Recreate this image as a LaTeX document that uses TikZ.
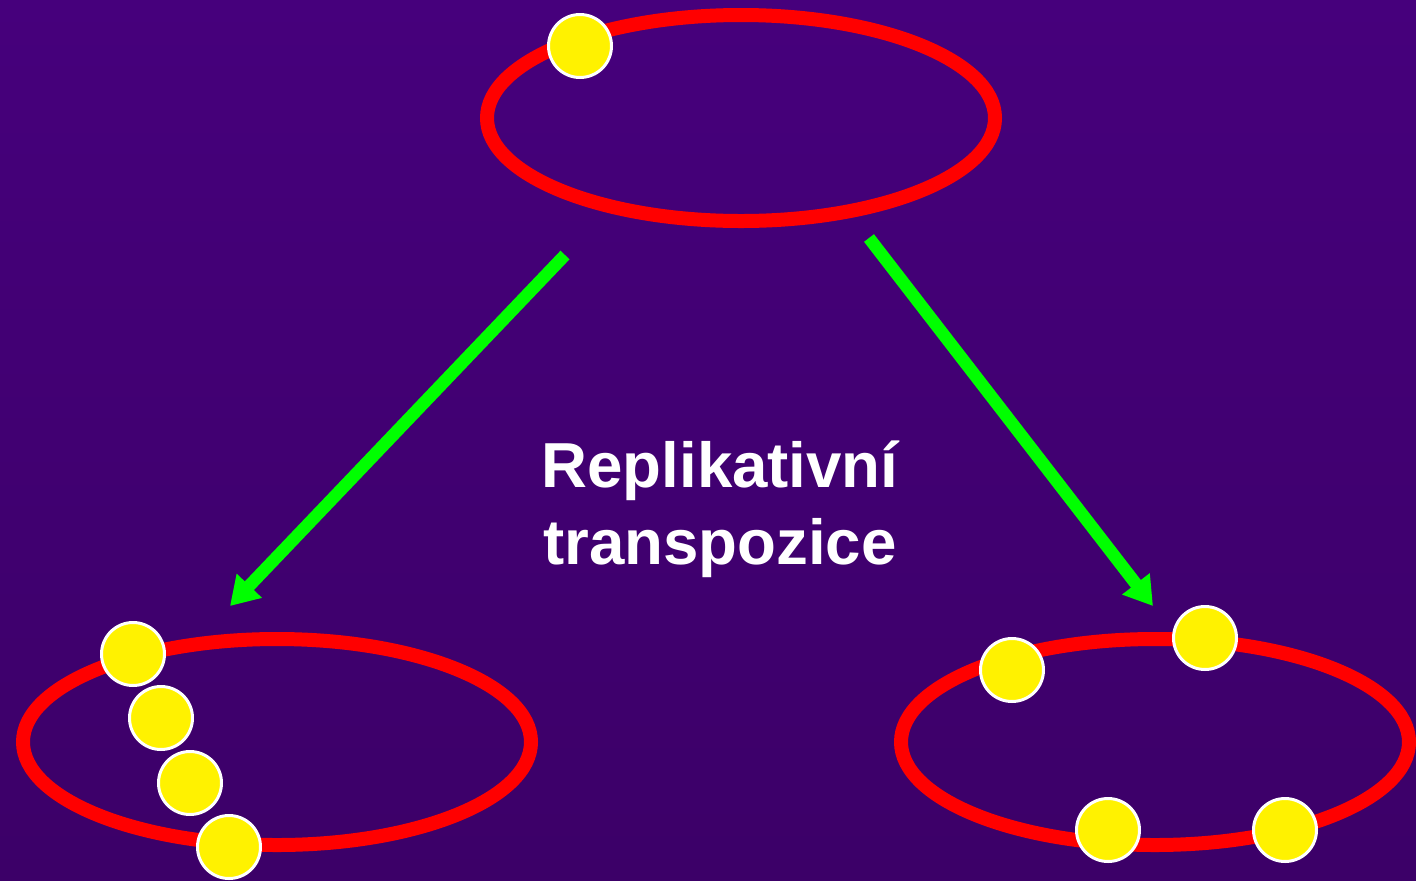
\documentclass[tikz,border=0pt]{standalone}
\usepackage{fontspec}
\setmainfont{Liberation Sans}
\usetikzlibrary{arrows.meta}
\definecolor{bgtop}{HTML}{46007C}
\definecolor{bgmid}{HTML}{54009A}
\definecolor{bgbot}{HTML}{3C0068}
\definecolor{ringred}{HTML}{FF0000}
\definecolor{arrowgreen}{HTML}{00FF00}
\tikzset{
  ring/.style={draw=ringred, line width=2.8mm},
  bead/.style={circle, draw=white, fill=yellow, line width=0.6mm, minimum size=12.6mm, inner sep=0pt},
  transarrow/.style={draw=arrowgreen, line width=2.5mm, -{Triangle[length=5.6mm, width=6.6mm]}}
}
\begin{document}
\begin{tikzpicture}[x=0.02cm,y=-0.02cm]
% Pozadi
\shade[top color=bgtop, middle color=bgmid, bottom color=bgbot] (0,0) rectangle (1416,880);
\useasboundingbox (0,0) rectangle (1416,880);
% Plazmidy
\draw[ring] (741,118) ellipse [x radius=254, y radius=103];
\draw[ring] (277,742) ellipse [x radius=254, y radius=103];
\draw[ring] (1155,742) ellipse [x radius=254, y radius=103];
% Transpozony
\node[bead] (t0) at (580,46) {};
\node[bead] (l1) at (133,654) {};
\node[bead] (l2) at (161,718) {};
\node[bead] (l3) at (190,783) {};
\node[bead] (l4) at (229,847) {};
\node[bead] (r1) at (1012,670) {};
\node[bead] (r2) at (1205,638) {};
\node[bead] (r3) at (1108,830) {};
\node[bead] (r4) at (1285,830) {};
% Sipky
\coordinate (lfrom) at (565,255);
\coordinate (lto) at (230,606);
\coordinate (rfrom) at (869,238);
\coordinate (rto) at (1153,606);
\draw[transarrow] (lfrom) -- (lto);
\draw[transarrow] (rfrom) -- (rto);
% Popisek
\node[text=white, font=\fontsize{36.2}{44}\selectfont\bfseries, align=center] (title) at (720,509) {Replikativní\\transpozice};
\end{tikzpicture}
\end{document}
